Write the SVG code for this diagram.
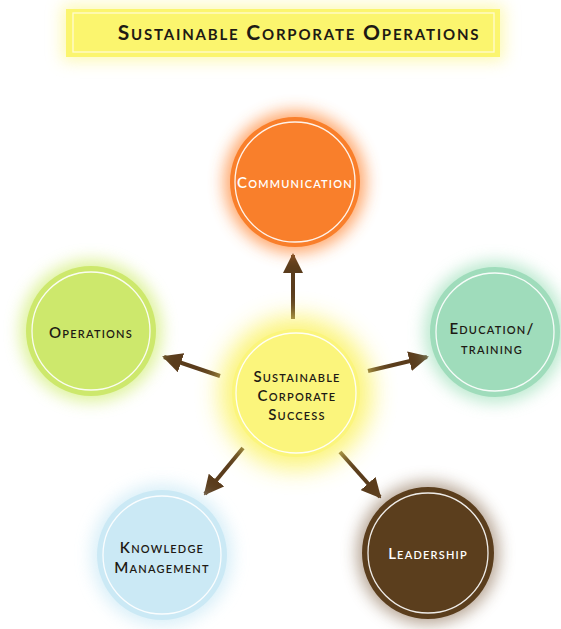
<svg xmlns="http://www.w3.org/2000/svg" width="561" height="629" viewBox="0 0 561 629">
  <defs>
    <filter id="glow" x="-50%" y="-50%" width="200%" height="200%">
      <feGaussianBlur stdDeviation="8"/>
    </filter>
    <filter id="glowBig" x="-60%" y="-60%" width="220%" height="220%">
      <feGaussianBlur stdDeviation="12"/>
    </filter>
    <marker id="head" viewBox="0 0 10 10" refX="9" refY="5" markerWidth="5" markerHeight="5" orient="auto" markerUnits="strokeWidth">
      <path d="M0,0 L10,5 L0,10 Z" fill="#5a3c1c"/>
    </marker>
    <style>
      .lbl { font-family: "Lato", "Liberation Sans", sans-serif; font-variant: small-caps; font-weight: 600; font-size: 15px; letter-spacing: 1.2px; text-anchor: middle; }
      .dark { fill: #1e1a14; }
      .light { fill: #ffffff; }
      .ring { fill: none; stroke: #ffffff; stroke-width: 1.3; opacity: 0.9; }
      .arrow { stroke: #5a3c1c; stroke-width: 4; fill: none; marker-end: url(#head); }
    </style>
  </defs>

  <rect width="561" height="629" fill="#ffffff"/>

  <!-- title banner -->
  <g id="title">
    <rect x="62" y="5" width="442" height="56" fill="#fbf36a" opacity="0.5" filter="url(#glow)"/>
    <rect x="66" y="9" width="434" height="48" fill="#fbf56e"/>
    <rect x="73" y="13" width="421" height="39" fill="none" stroke="#fffbd0" stroke-width="1.3"/>
    <text x="299" y="40" class="lbl dark" style="font-size:21px;letter-spacing:1.8px;font-weight:700">Sustainable Corporate Operations</text>
  </g>

  <!-- connectors -->
  <g id="connectors">
    <line class="arrow" x1="293" y1="319" x2="293" y2="255"/>
    <line class="arrow" x1="220" y1="376" x2="164" y2="357"/>
    <line class="arrow" x1="368" y1="371" x2="427" y2="357"/>
    <line class="arrow" x1="243" y1="448" x2="205" y2="494"/>
    <line class="arrow" x1="340" y1="452" x2="380" y2="497"/>
  </g>

  <g id="communication">
    <circle cx="295" cy="182" r="71" fill="#ff8a3a" opacity="0.75" filter="url(#glow)"/>
    <circle cx="295" cy="182" r="65" fill="#f97f2b"/>
    <circle cx="295" cy="182" r="60" class="ring"/>
    <text x="295" y="188" class="lbl light">Communication</text>
  </g>

  <g id="operations">
    <circle cx="91" cy="331" r="71" fill="#d3ee7a" opacity="0.75" filter="url(#glow)"/>
    <circle cx="91" cy="331" r="65" fill="#cde86c"/>
    <circle cx="91" cy="331" r="59" class="ring"/>
    <text x="91" y="338" class="lbl dark">Operations</text>
  </g>

  <g id="education">
    <circle cx="495" cy="332" r="71" fill="#a6e2c0" opacity="0.75" filter="url(#glow)"/>
    <circle cx="495" cy="332" r="65" fill="#9fdcbb"/>
    <circle cx="495" cy="332" r="59" class="ring"/>
    <text x="492" y="334" class="lbl dark">Education/</text>
    <text x="492" y="354" class="lbl dark">training</text>
  </g>

  <g id="center">
    <circle cx="296" cy="393" r="76" fill="#fbf36a" opacity="0.9" filter="url(#glowBig)"/>
    <circle cx="296" cy="393" r="64" fill="#fbf57c"/>
    <circle cx="296" cy="393" r="60" class="ring"/>
    <text x="297" y="382" class="lbl dark">Sustainable</text>
    <text x="297" y="401" class="lbl dark">Corporate</text>
    <text x="297" y="420" class="lbl dark">Success</text>
  </g>

  <g id="knowledge">
    <circle cx="162" cy="555" r="71" fill="#cdeaf6" opacity="0.75" filter="url(#glow)"/>
    <circle cx="162" cy="555" r="65" fill="#cbe9f5"/>
    <circle cx="162" cy="555" r="59" class="ring"/>
    <text x="162" y="553" class="lbl dark">Knowledge</text>
    <text x="162" y="573" class="lbl dark">Management</text>
  </g>

  <g id="leadership">
    <circle cx="428" cy="553" r="71" fill="#7a5a3a" opacity="0.55" filter="url(#glow)"/>
    <circle cx="428" cy="553" r="66" fill="#5b3e1d"/>
    <circle cx="428" cy="553" r="60" class="ring"/>
    <text x="428" y="559" class="lbl light">Leadership</text>
  </g>
</svg>
